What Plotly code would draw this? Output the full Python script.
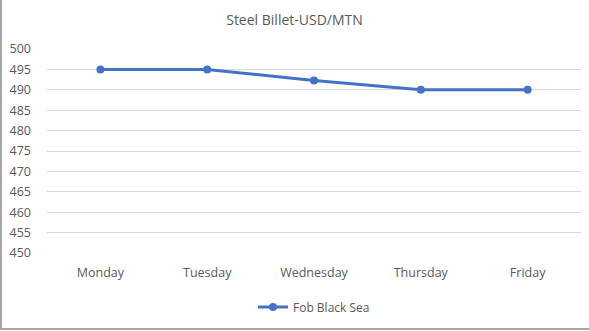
import plotly.graph_objects as go

days = ["Monday", "Tuesday", "Wednesday", "Thursday", "Friday"]
fob_black_sea = [495, 495, 492.3, 490, 490]
y_ticks = list(range(450, 501, 5))

W, H = 589, 331
ml, mr, mt, mb = 47, 8, 49, 78
pw = W - ml - mr
ph = H - mt - mb

fig = go.Figure()
fig.add_trace(go.Scatter(
    x=days, y=fob_black_sea, mode="lines+markers", name="Fob Black Sea",
    line=dict(color="#4472C4", width=3), marker=dict(size=8, color="#4472C4"),
))

font_family = "Open Sans, Liberation Sans, sans-serif"
fig.update_layout(
    width=W, height=H,
    margin=dict(l=ml, r=mr, t=mt, b=mb),
    paper_bgcolor="white", plot_bgcolor="white",
    title=dict(text="Steel Billet-USD/MTN", x=0.5, xanchor="center", y=1 - 20 / H, yanchor="middle",
               font=dict(family=font_family, size=14, color="#595959")),
    showlegend=True,
    legend=dict(orientation="h", x=0.5, xanchor="center", y=-(307 - 253) / ph, yanchor="middle",
                font=dict(family=font_family, size=12, color="#595959")),
    xaxis=dict(type="category", range=[-0.5, 4.5], showgrid=False, showline=False, zeroline=False,
               ticks="", ticklabelstandoff=10,
               tickfont=dict(family=font_family, size=12.5, color="#595959")),
    yaxis=dict(range=[450, 500], tickvals=y_ticks, showgrid=True, gridcolor="#D9D9D9", gridwidth=1,
               zeroline=False, showline=False, ticks="", ticklabelstandoff=15,
               tickfont=dict(family=font_family, size=12.5, color="#595959")),
)

# outer chart border (left and bottom visible in reference)
fig.add_shape(type="rect", xref="paper", yref="paper",
              x0=(1 - ml) / pw, x1=(W + 5 - ml) / pw,
              y0=-(329 - (H - mb)) / ph, y1=(mt + 5) / ph + 1,
              line=dict(color="#A6A6A6", width=2), fillcolor="rgba(0,0,0,0)", layer="above")

fig.write_html("out.html")
